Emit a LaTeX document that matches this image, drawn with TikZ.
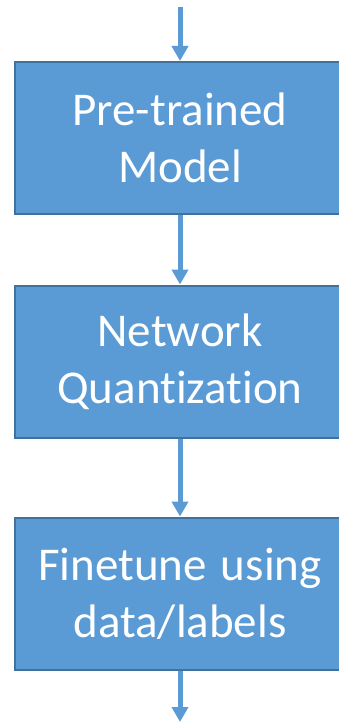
\documentclass[tikz,border=0pt]{standalone}
\usepackage{fontspec}
\setmainfont[Ligatures={NoCommon,NoDiscretionary},RawFeature={-liga;-dlig;-clig}]{Carlito}
\usetikzlibrary{arrows.meta}
\definecolor{boxfill}{HTML}{5B9BD5}
\definecolor{boxline}{HTML}{41719C}
\tikzset{
  stepbox/.style={draw=boxline, line width=2pt, fill=boxfill, text=white,
    minimum width=330pt, minimum height=152pt, align=center, inner sep=0pt,
    font=\fontsize{47pt}{57pt}\selectfont},
  flow/.style={draw=boxfill, line width=5pt, -{Triangle[width=16pt,length=15pt]}}
}
\begin{document}
\begin{tikzpicture}[x=1pt,y=1pt]
\useasboundingbox (0,0) rectangle (339,-722);
\node[stepbox] (b1) at (180,-138) {Pre-trained\\Model};
\node[stepbox] (b2) at (180,-361.5) {Network\\Quantization};
\node[stepbox] (b3) at (180,-593.5) {Finetune\hspace{0.3em}using\\data/labels};
\coordinate (top) at (180,-7);
\coordinate (bot) at (180,-722);
\draw[flow] (top) -- (b1.north);
\draw[flow] (b1.south) -- (b2.north);
\draw[flow] (b2.south) -- (b3.north);
\draw[flow] (b3.south) -- (bot);
\end{tikzpicture}
\end{document}
